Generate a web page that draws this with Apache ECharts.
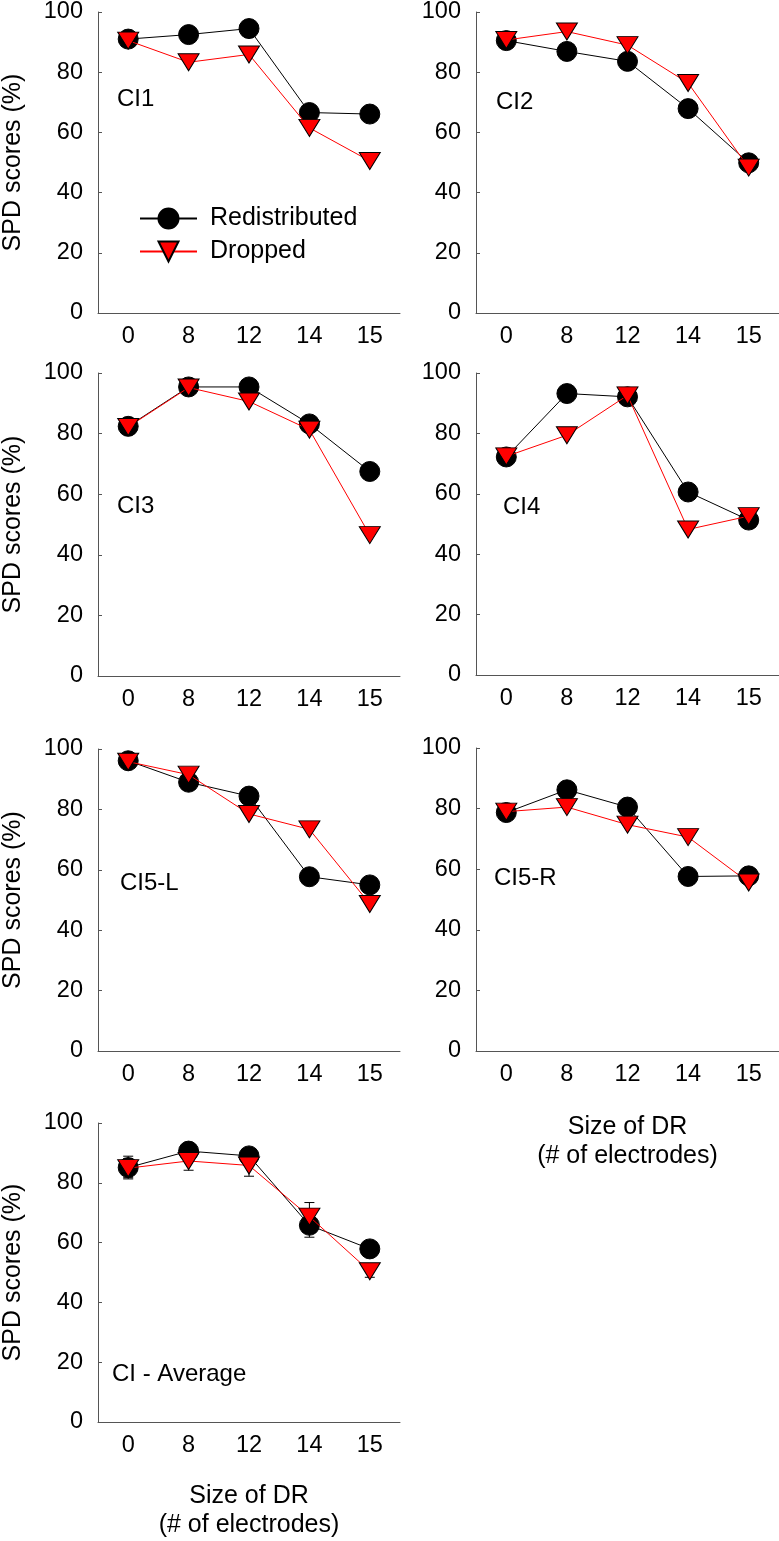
<!DOCTYPE html>
<html><head><meta charset="utf-8">
<script src="https://cdn.jsdelivr.net/npm/echarts@6/dist/echarts.min.js"></script>
<style>html,body{margin:0;padding:0;background:#fff}#c{width:779px;height:1541px}</style>
</head><body><div id="c"></div>
<script>
// ---- data ----
const categories = ['0', '8', '12', '14', '15'];
const panelLabels = ['CI1', 'CI2', 'CI3', 'CI4', 'CI5-L', 'CI5-R', 'CI - Average'];
const ci1Redist = [91.0, 92.5, 94.5, 66.6, 66.1];
const ci1Drop   = [90.5, 83.3, 85.9, 61.5, 50.5];
const ci2Redist = [90.5, 86.9, 83.6, 67.9, 49.9];
const ci2Drop   = [90.7, 93.5, 89.0, 76.4, 48.3];
const ci3Redist = [82.4, 95.4, 95.4, 83.2, 67.5];
const ci3Drop   = [82.2, 95.2, 90.6, 81.3, 46.5];
const ci4Redist = [72.2, 93.2, 92.1, 60.6, 51.3];
const ci4Drop   = [72.4, 79.4, 92.6, 48.2, 52.6];
const ci5LRedist = [96.1, 89.0, 84.4, 57.7, 55.0];
const ci5LDrop   = [95.8, 91.5, 78.5, 73.4, 48.7];
const ci5RRedist = [78.7, 86.2, 80.5, 57.6, 57.8];
const ci5RDrop   = [79.0, 80.5, 74.7, 70.6, 55.6];
const avgRedist  = [85.1, 90.6, 89.0, 65.8, 57.9];
const avgDrop    = [84.9, 87.3, 85.8, 68.7, 50.4];
const avgRedistErr = [3.8, 2.0, 2.0, 4.0, 2.0];
const avgDropErr   = [3.2, 3.1, 3.6, 4.7, 2.0];
const yMin = 0, yMax = 100, yStep = 20;
const yTitle = 'SPD scores (%)';
const xTitle = 'Size of DR\n(# of electrodes)';

const redistSets = [ci1Redist, ci2Redist, ci3Redist, ci4Redist, ci5LRedist, ci5RRedist, avgRedist];
const dropSets = [ci1Drop, ci2Drop, ci3Drop, ci4Drop, ci5LDrop, ci5RDrop, avgDrop];

// ---- layout ----
const FONT = '"Liberation Sans", Arial, sans-serif';
const layout = [
  {left: 97,  top: 10,   h: 303, lx: 117, ly: 99},
  {left: 476, top: 10,   h: 303, lx: 496, ly: 102},
  {left: 97,  top: 373,  h: 303, lx: 117, ly: 506},
  {left: 476, top: 373,  h: 302, lx: 503, ly: 507},
  {left: 97,  top: 749,  h: 302, lx: 120, ly: 883},
  {left: 476, top: 748,  h: 303, lx: 494, ly: 878},
  {left: 97,  top: 1123, h: 302, lx: 112, ly: 1374}
];
const axisColor = '#555';

const grids = [], xAxes = [], yAxes = [], series = [], graphics = [];
layout.forEach((L, i) => {
  grids.push({left: L.left, top: L.top, width: 303, height: L.h});
  const showXName = (i === 5 || i === 6);
  xAxes.push({
    gridIndex: i, type: 'category', data: categories, boundaryGap: true,
    axisLine: {lineStyle: {color: axisColor, width: 1}},
    axisTick: {inside: true, length: 4, alignWithLabel: true, lineStyle: {color: axisColor}},
    axisLabel: {fontSize: 23.5, color: '#000', margin: 12, fontFamily: FONT},
    splitLine: {show: false},
    name: showXName ? xTitle : '',
    nameLocation: 'middle', nameGap: i === 5 ? 62 : 60,
    nameTextStyle: {fontSize: 25, color: '#000', fontFamily: FONT, lineHeight: 29}
  });
  yAxes.push({
    gridIndex: i, type: 'value', min: yMin, max: yMax, interval: yStep,
    axisLine: {show: true, lineStyle: {color: axisColor, width: 1}},
    axisTick: {show: true, inside: true, length: 4, lineStyle: {color: axisColor}},
    axisLabel: {fontSize: 23.5, color: '#000', margin: 15, fontFamily: FONT},
    splitLine: {show: false},
    name: (i % 2 === 0) ? yTitle : '',
    nameLocation: 'middle', nameRotate: 90, nameGap: 72,
    nameTextStyle: {fontSize: 25, color: '#000', fontFamily: FONT}
  });
  if (i === 6) {
    const errRender = function (params, api) {
      const x = api.value(0), y = api.value(1), e = api.value(2);
      const t = api.coord([x, y + e]), b = api.coord([x, y - e]);
      const hw = 5, st = {stroke: '#000', lineWidth: 1};
      return {type: 'group', children: [
        {type: 'line', shape: {x1: t[0], y1: t[1], x2: b[0], y2: b[1]}, style: st},
        {type: 'line', shape: {x1: t[0] - hw, y1: t[1], x2: t[0] + hw, y2: t[1]}, style: st},
        {type: 'line', shape: {x1: b[0] - hw, y1: b[1], x2: b[0] + hw, y2: b[1]}, style: st}
      ]};
    };
    series.push({type: 'custom', xAxisIndex: i, yAxisIndex: i, z: 1, renderItem: errRender,
      encode: {x: 0, y: 1}, silent: true,
      data: categories.map((c, k) => [k, avgRedist[k], avgRedistErr[k]])});
    series.push({type: 'custom', xAxisIndex: i, yAxisIndex: i, z: 1, renderItem: errRender,
      encode: {x: 0, y: 1}, silent: true,
      data: categories.map((c, k) => [k, avgDrop[k], avgDropErr[k]])});
  }
  series.push({
    name: 'Redistributed', type: 'line', xAxisIndex: i, yAxisIndex: i, z: 3,
    data: redistSets[i], symbol: 'circle', symbolSize: 20,
    itemStyle: {color: '#000', borderColor: '#000', borderWidth: 1},
    lineStyle: {color: '#000', width: 1}, animation: false
  });
  series.push({
    name: 'Dropped', type: 'line', xAxisIndex: i, yAxisIndex: i, z: 4,
    data: dropSets[i], symbol: 'triangle', symbolRotate: 180, symbolSize: [21, 17],
    itemStyle: {color: '#ff0000', borderColor: '#000', borderWidth: 1},
    lineStyle: {color: '#ff0000', width: 1}, animation: false
  });
  graphics.push({type: 'text', x: L.lx, y: L.ly,
    style: {text: panelLabels[i], font: '24px ' + FONT, fill: '#000', verticalAlign: 'middle', align: 'left'}});
});

const chart = echarts.init(document.getElementById('c'), null, {renderer: 'canvas'});
chart.setOption({
  animation: false,
  backgroundColor: '#fff',
  grid: grids, xAxis: xAxes, yAxis: yAxes, series: series,
  graphic: graphics,
  legend: {
    data: ['Redistributed', 'Dropped'], orient: 'vertical', left: 139, top: 206,
    itemWidth: 57, itemHeight: 25, itemGap: 8, padding: 0, symbolRotate: 'inherit',
    textStyle: {fontSize: 25, color: '#000', fontFamily: FONT, padding: [0, 0, 0, 8]},
    selectedMode: false
  }
});
</script></body></html>
